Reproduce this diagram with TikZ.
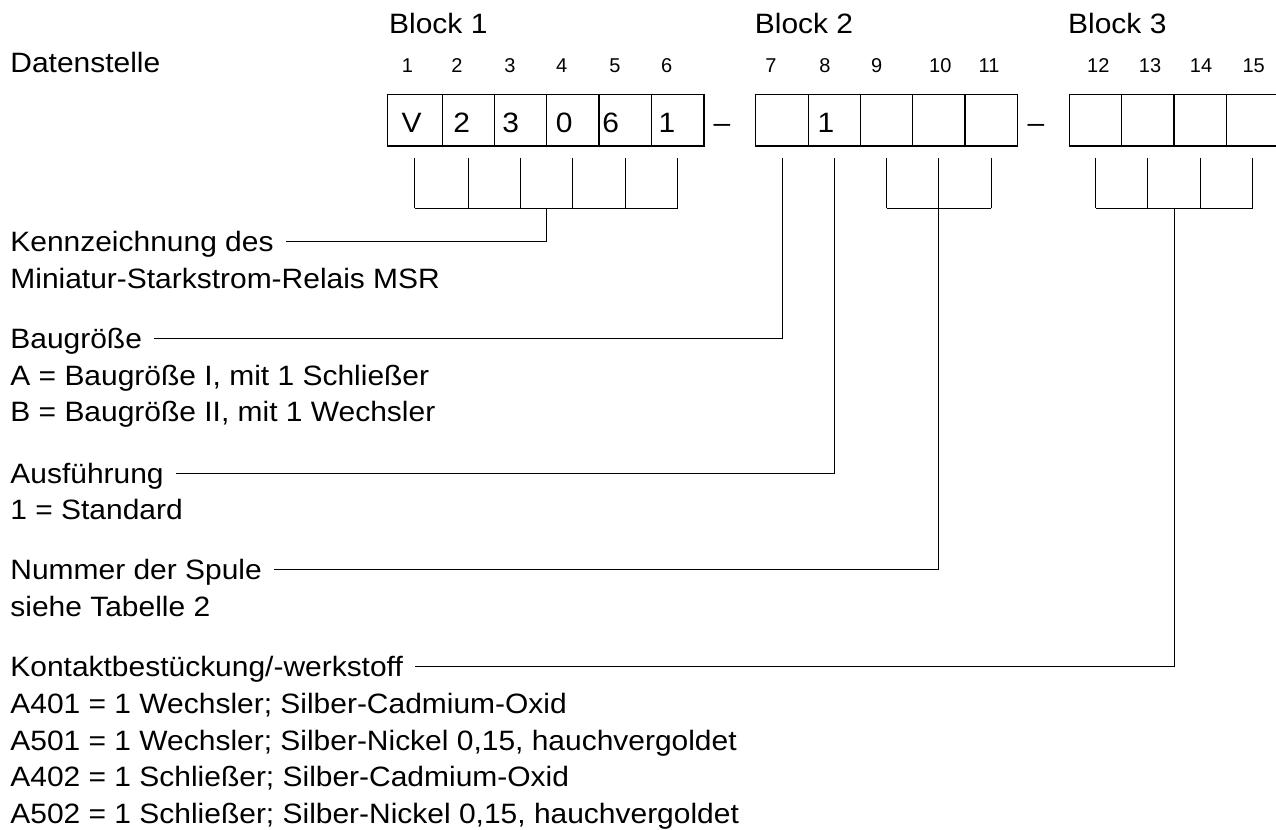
\documentclass[tikz,border=0pt]{standalone}
\usepackage{fontspec}
\setmainfont[FakeStretch=1.07]{Liberation Sans}
\newfontfamily\numfont{Liberation Sans}
\usetikzlibrary{calc}

\begin{document}
\begin{tikzpicture}[x=.5pt,y=-.5pt,
  cell/.style={draw,line width=.6pt,minimum width=26.15pt,minimum height=25.85pt,inner sep=0pt},
  txt/.style={anchor=base west,inner sep=0pt,font=\fontsize{14}{16}\selectfont},
  dig/.style={anchor=base,inner sep=0pt,font=\fontsize{14}{16}\selectfont},
  nr/.style={anchor=base,inner sep=0pt,font=\numfont\fontsize{10}{12}\selectfont},
  link/.style={line width=.5pt}]
\useasboundingbox (0,0) rectangle (1276,830);
% Kopfzeile
\node[txt] (ds) at (10,72.7) {Datenstelle};
\node[txt] (bl1) at (388.8,33.3) {Block 1};
\node[txt] (bl2) at (754.5,33.3) {Block 2};
\node[txt] (bl3) at (1067.8,33.3) {Block 3};
\foreach \n/\x in {1/407.5,2/457,3/510,4/561.7,5/615,6/666.7,7/771,8/825,9/876.7,
  10/940.3,11/989,12/1098.3,13/1150,14/1201,15/1253.7}
  \node[nr] (n\n) at (\x,72.7) {\n};
% Kaestchen
\node[cell,minimum width=27.5pt] (c1) at (414.8,120.15) {};
\foreach \n/\x in {2/468.3,3/520.5,4/572.85,5/625.35,6/677.85,7/782,8/834.3,9/886.5,
  10/938.85,11/991.15,12/1095.5,13/1147.85,14/1200.35,15/1252.85}
  \node[cell] (c\n) at (\x,120.15) {};
\foreach \n/\x/\t in {1/411.7/V,2/461.7/2,3/510.8/3,4/564.2/0,5/610.8/6,6/667/1,8/826/1}
  \node[dig] (d\n) at (\x,132.8) {\t};
\node[dig] (dash1) at (722,132) {--};
\node[dig] (dash2) at (1036,132) {--};
% Klammern
\foreach \n in {1,...,15}
  \draw[link] ([yshift=-6pt]c\n.south) -- (c\n |- 0,158.3);
\foreach \n in {1,2,3,4,5,6,9,10,11,12,13,14,15}
  \draw[link] (c\n |- 0,158.3) -- (c\n |- 0,208.3);
\draw[link] (c1 |- 0,208.3) -- (c6 |- 0,208.3);
\draw[link] (c9 |- 0,208.3) -- (c11 |- 0,208.3);
\draw[link] (c12 |- 0,208.3) -- (c15 |- 0,208.3);
\coordinate (j1) at ($(c1 |- 0,208.3)!.5!(c6 |- 0,208.3)$);
\coordinate (j3) at ($(c12 |- 0,208.3)!.5!(c15 |- 0,208.3)$);
% Erlaeuterungen
\node[txt] (kz) at (10,251.7) {Kennzeichnung des};
\node[txt] (kz2) at (10,288.3) {Miniatur-Starkstrom-Relais MSR};
\node[txt] (bg) at (10,348.3) {Baugröße};
\node[txt] (bg2) at (10,385) {A = Baugröße I, mit 1 Schließer};
\node[txt] (bg3) at (10,421.7) {B = Baugröße II, mit 1 Wechsler};
\node[txt] (af) at (10,483.3) {Ausführung};
\node[txt] (af2) at (10,519.3) {1 = Standard};
\node[txt] (ns) at (10,579.3) {Nummer der Spule};
\node[txt] (ns2) at (10,616) {siehe Tabelle 2};
\node[txt] (kt) at (10,676) {Kontaktbestückung/-werkstoff};
\node[txt] (kt1) at (10,713.3) {A401 = 1 Wechsler; Silber-Cadmium-Oxid};
\node[txt] (kt2) at (10,750) {A501 = 1 Wechsler; Silber-Nickel 0,15, hauchvergoldet};
\node[txt] (kt3) at (10,786.7) {A402 = 1 Schließer; Silber-Cadmium-Oxid};
\node[txt] (kt4) at (10,823.3) {A502 = 1 Schließer; Silber-Nickel 0,15, hauchvergoldet};
% Verbindungen
\draw[link] ([xshift=6pt,yshift=5pt]kz.base east) -| (j1);
\draw[link] ([xshift=6pt,yshift=5pt]bg.base east) -| (c7 |- 0,158.3);
\draw[link] ([xshift=6pt,yshift=5pt]af.base east) -| (c8 |- 0,158.3);
\draw[link] ([xshift=6pt,yshift=5pt]ns.base east) -| (c10 |- 0,208.3);
\draw[link] ([xshift=6pt,yshift=5pt]kt.base east) -| (j3);
\end{tikzpicture}
\end{document}
